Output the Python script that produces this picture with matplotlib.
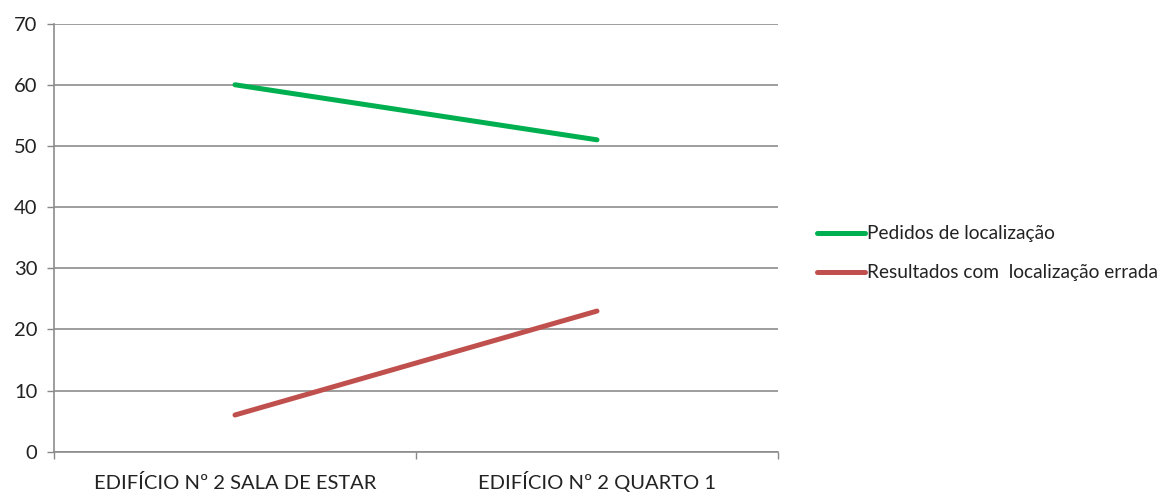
import matplotlib
matplotlib.use("Agg")
import matplotlib.pyplot as plt
import matplotlib.transforms as mtransforms

categories = ["EDIFÍCIO Nº 2 SALA DE ESTAR", "EDIFÍCIO Nº 2 QUARTO 1"]
pedidos = [60, 51]
erradas = [6, 23]
series_names = ["Pedidos de localização", "Resultados com  localização errada"]
yticks = [0, 10, 20, 30, 40, 50, 60, 70]

plt.rcParams['font.family'] = ['Lato', 'DejaVu Sans']

fig = plt.figure(figsize=(11.69, 4.92), dpi=100)
ax = fig.add_axes([0.0462, 0.0819, 0.6193, 0.8701])

x = [0.5, 1.5]
ax.plot(x, pedidos, color="#00B050", lw=3.6, solid_capstyle="round", label=series_names[0], zorder=3)
ax.plot(x, erradas, color="#C0504D", lw=3.6, solid_capstyle="round", label=series_names[1], zorder=3)

ax.set_xlim(0, 2)
ax.set_ylim(0, 70)
ax.set_yticks(yticks)
ax.set_xticks([0, 1, 2])
ax.set_xticklabels([])
trans = mtransforms.blended_transform_factory(ax.transData, ax.transAxes)
for xi, lab in zip(x, categories):
    ax.text(xi, -0.088, lab, transform=trans, ha="center", va="baseline",
            fontsize=14.5, color="#222222", clip_on=False)
ax.tick_params(axis="x", which="major", length=5, color="#888888", width=1)
ax.tick_params(axis="y", length=5, color="#888888", width=1, labelsize=14.5, colors="#222222", pad=7)
ax.grid(axis="y", color="#8c8c8c", lw=1.2, zorder=1)
for s in ["top", "right"]:
    ax.spines[s].set_visible(False)
for s in ["left", "bottom"]:
    ax.spines[s].set_color("#8c8c8c")
    ax.spines[s].set_linewidth(1.2)

leg = fig.legend(loc="center left", bbox_to_anchor=(0.684, 0.485), frameon=False,
                 fontsize=13.8, handlelength=2.5, handletextpad=0.1, labelspacing=1.15)
for t in leg.get_texts():
    t.set_color("#222222")

fig.savefig("out.png", dpi=100)
